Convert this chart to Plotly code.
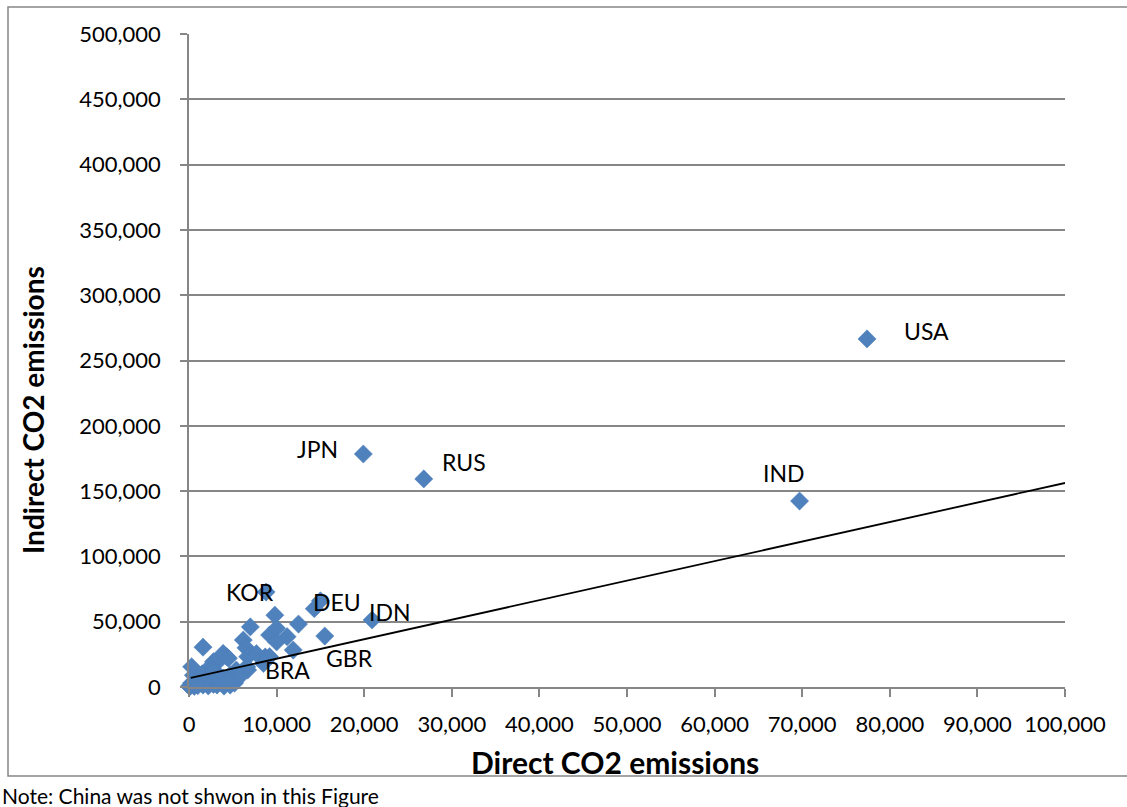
import plotly.graph_objects as go

# Direct vs indirect CO2 emissions by country (China excluded)
direct_co2 = [
    77400, 69700, 19900, 26800, 8800, 14300, 15000, 20900, 15500, 8700,
    9800, 12500, 7000, 9200, 10000, 11200, 6200, 10000, 1600, 6500,
    11900, 6700, 9200, 7700, 4300, 3500, 3900, 4500, 2800, 6700,
    5400, 6600, 300, 2400, 3200, 4700, 8500,
    100, 600, 1000, 1600, 2200, 2800, 3200, 4000, 4700, 5200,
    900, 2400, 3900, 300, 1300, 2000, 3500, 4400, 500, 1500,
    2800, 5800, 200, 50, 700,
]
indirect_co2 = [
    266500, 142400, 178400, 159300, 72700, 60000, 66000, 51300, 39000, 23000,
    55000, 48200, 46000, 39800, 44900, 38500, 36000, 34500, 30500, 30000,
    28300, 23200, 23200, 25500, 23200, 20700, 25700, 22000, 19400, 13000,
    13000, 15500, 15500, 15500, 10500, 9200, 18000,
    200, 500, 1000, 1500, 800, 2000, 1500, 700, 1500, 3000,
    6600, 6600, 6900, 3000, 3500, 4000, 4500, 5000, 9000, 10000,
    12000, 8000, 1500, 500, 2500,
]

# Country labels and where their text sits
label_names = ["USA", "IND", "JPN", "RUS", "KOR", "DEU", "IDN", "GBR", "BRA"]
label_x = [84200, 67900, 14700, 31400, 7000, 16900, 22900, 18300, 11200]
label_y = [272600, 163900, 182200, 172300, 72700, 65100, 57400, 22200, 13000]

# Linear trendline end points
trend_x = [200, 100000]
trend_y = [7000, 156200]

x_ticks = list(range(0, 100001, 10000))
y_ticks = list(range(0, 500001, 50000))

FONT = "Lato"
GRID = "#868686"

fig = go.Figure()

fig.add_trace(go.Scatter(
    x=direct_co2, y=indirect_co2, mode="markers",
    marker=dict(symbol="diamond", size=14, color="#4F81BD",
                line=dict(color="#4A7EBB", width=0.5)),
    cliponaxis=False, showlegend=False,
))

fig.add_trace(go.Scatter(
    x=trend_x, y=trend_y, mode="lines",
    line=dict(color="black", width=1.8),
    cliponaxis=False, showlegend=False,
))

for name, lx, ly in zip(label_names, label_x, label_y):
    fig.add_annotation(x=lx, y=ly, text=name, showarrow=False,
                       xanchor="center", yanchor="middle",
                       font=dict(family=FONT, size=23, color="black"))

# Axis titles and footnote
fig.add_annotation(x=(615 - 189) / 876, y=(687 - 762) / 653, xref="paper", yref="paper",
                   text="<b>Direct CO2 emissions</b>", showarrow=False,
                   xanchor="center", yanchor="middle",
                   font=dict(family=FONT, size=30, color="black"))
fig.add_annotation(x=(33 - 189) / 876, y=(687 - 410) / 653, xref="paper", yref="paper",
                   text="<b>Indirect CO2 emissions</b>", showarrow=False, textangle=-90,
                   xanchor="center", yanchor="middle",
                   font=dict(family=FONT, size=28, color="black"))
fig.add_annotation(x=(0 - 189) / 876, y=(687 - 795) / 653, xref="paper", yref="paper",
                   text="Note: China was not shwon in this Figure", showarrow=False,
                   xanchor="left", yanchor="middle",
                   font=dict(family=FONT, size=21, color="black"))

# Chart-area frame
fig.add_shape(type="rect", xref="paper", yref="paper",
              x0=(8 - 189) / 876, x1=(1140 - 189) / 876,
              y0=(687 - 776) / 653, y1=(687 - 7) / 653,
              line=dict(color="#868686", width=1.5), fillcolor="rgba(0,0,0,0)",
              layer="below")

fig.update_xaxes(
    range=[0, 100000], tickvals=x_ticks, tickformat=",d",
    showgrid=False, zeroline=False,
    showline=True, linecolor=GRID, linewidth=1.5,
    ticks="outside", ticklen=8, tickcolor=GRID, tickwidth=1.5,
    ticklabelstandoff=9,
    tickfont=dict(family=FONT, size=22, color="black"),
)
fig.update_yaxes(
    range=[0, 500000], tickvals=y_ticks, tickformat=",d",
    showgrid=True, gridcolor=GRID, gridwidth=1.5, zeroline=False,
    showline=True, linecolor=GRID, linewidth=1.5,
    ticks="outside", ticklen=7, tickcolor=GRID, tickwidth=1.5,
    ticklabelstandoff=15,
    tickfont=dict(family=FONT, size=22, color="black"),
)

fig.update_layout(
    width=1127, height=807,
    margin=dict(l=189, r=62, t=34, b=120),
    paper_bgcolor="white", plot_bgcolor="white",
    font=dict(family=FONT, color="black"),
)

fig.write_html("out.html")
